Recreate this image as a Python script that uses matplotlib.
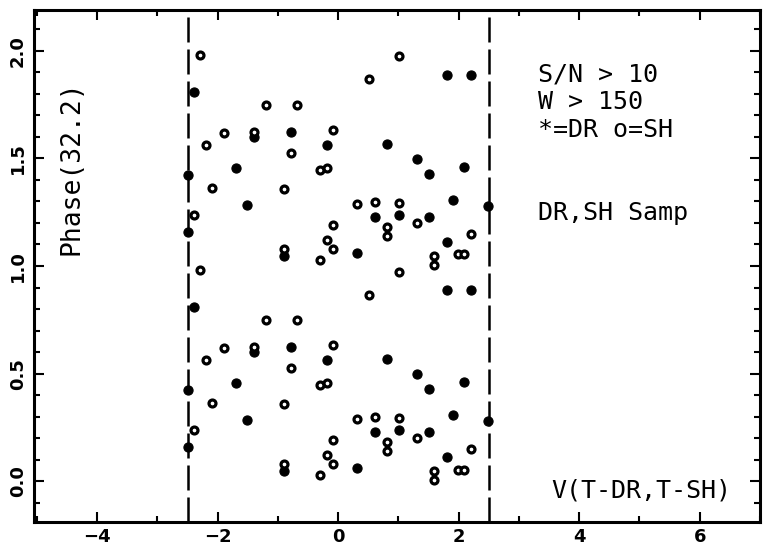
import numpy as np
import matplotlib.pyplot as plt
from matplotlib.ticker import MultipleLocator

# DR sample (filled), velocity and base phase in [0, 1)
dr_v = [-2.40, -0.79, -0.19, -1.70, -2.50, -1.51, -2.50, -0.90, -1.39,
        1.80, 2.20, 0.81, 1.31, 1.50, 2.09, 1.90, 2.49, 0.61, 1.01, 1.50,
        0.31, 1.80]
dr_phase = [0.810, 0.623, 0.563, 0.454, 0.423, 0.284, 0.158, 0.047, 0.600,
            0.888, 0.888, 0.569, 0.499, 0.427, 0.462, 0.306, 0.279, 0.228,
            0.236, 0.229, 0.059, 0.110]

# SH sample (open)
sh_v = [-2.29, -1.20, -0.69, -1.90, -1.39, -0.09, -2.19, -0.79, -0.30, -0.19,
        -2.09, -0.90, -2.40, -0.09, -0.19, -0.09, -0.90, -0.30, 1.01, 0.51,
        0.31, 0.61, 1.01, 0.81, 0.81, 1.31, 2.20, 1.59, 1.59, 1.99, 2.09]
sh_phase = [0.982, 0.750, 0.747, 0.620, 0.624, 0.633, 0.563, 0.524, 0.447,
            0.454, 0.363, 0.360, 0.239, 0.191, 0.120, 0.078, 0.078, 0.029,
            0.974, 0.867, 0.287, 0.296, 0.292, 0.181, 0.141, 0.199, 0.149,
            0.045, 0.003, 0.054, 0.054]

v_cut = [-2.5, 2.5]
notes = ["S/N > 10", "W > 150", "*=DR o=SH"]

dr_v = np.array(dr_v)
dr_phase = np.array(dr_phase)
sh_v = np.array(sh_v)
sh_phase = np.array(sh_phase)

fig = plt.figure(figsize=(7.66, 5.47), dpi=100)
ax = fig.add_axes([0.0444, 0.0457, 0.9476, 0.936])

mono = "DejaVu Sans Mono"

# Two cycles of phase
for shift in (0, 1):
    ax.plot(dr_v, dr_phase + shift, "o", ms=6.6, mew=0.8,
            mfc="black", mec="black", zorder=3)
    ax.plot(sh_v, sh_phase + shift, "o", ms=5.0, mew=2.3,
            mfc="white", mec="black", zorder=4)

for xv in v_cut:
    ax.axvline(xv, color="black", lw=1.8, dashes=(10, 2.8), zorder=2)

ax.set_xlim(-5.05, 7.0)
ax.set_ylim(-0.19, 2.19)

ax.xaxis.set_major_locator(MultipleLocator(2))
ax.xaxis.set_minor_locator(MultipleLocator(1))
ax.yaxis.set_major_locator(MultipleLocator(0.5))
ax.yaxis.set_minor_locator(MultipleLocator(0.1))
ax.yaxis.set_major_formatter(plt.FormatStrFormatter("%.1f"))

ax.tick_params(which="both", direction="in", top=True, right=True,
               width=1.5, labelsize=13)
ax.tick_params(which="major", length=7)
ax.tick_params(which="minor", length=4)
ax.tick_params(axis="x", pad=4)
ax.tick_params(axis="y", pad=5)
for lab in ax.get_xticklabels() + ax.get_yticklabels():
    lab.set_fontweight("bold")
for lab in ax.get_yticklabels():
    lab.set_rotation(90)
    lab.set_va("center")

for sp in ax.spines.values():
    sp.set_linewidth(2.2)

ax.text(0.052, 0.693, "Phase(32.2)", transform=ax.transAxes, rotation=90,
        ha="center", va="center", fontsize=19, family=mono)

for txt, yy in zip(notes, [0.874, 0.820, 0.765]):
    ax.text(0.695, yy, txt, transform=ax.transAxes, ha="left",
            va="center", fontsize=18, family=mono)
ax.text(0.695, 0.604, "DR,SH Samp", transform=ax.transAxes, ha="left",
        va="center", fontsize=18, family=mono)
ax.text(0.836, 0.0625, "V(T-DR,T-SH)", transform=ax.transAxes, ha="center",
        va="center", fontsize=18, family=mono)

fig.savefig("out.png", dpi=100)
